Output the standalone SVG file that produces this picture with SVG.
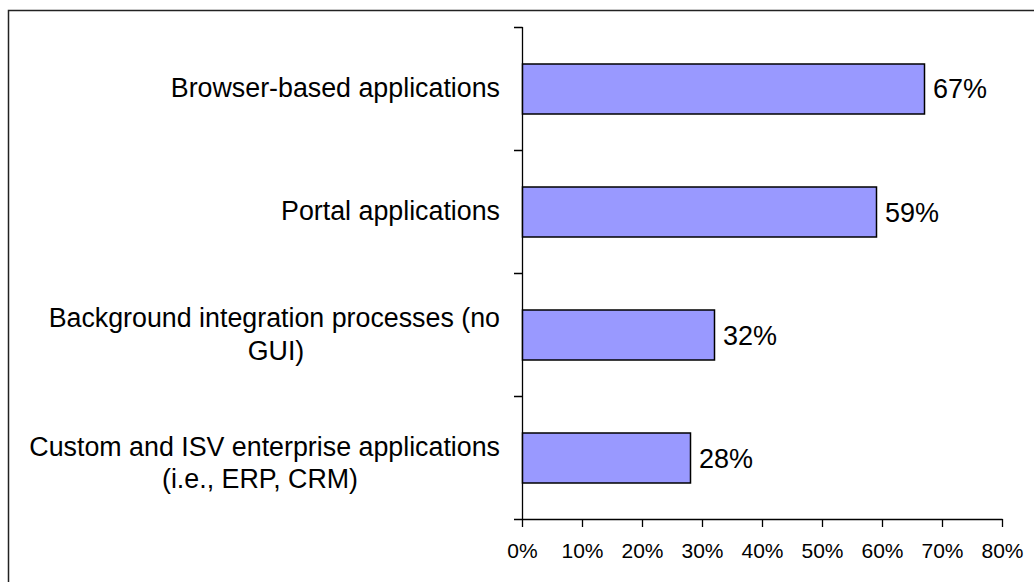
<svg xmlns="http://www.w3.org/2000/svg" width="1034" height="582" viewBox="0 0 1034 582">
<style>
.frame{fill:#fff;stroke:#222;stroke-width:1.5}
.axis{stroke:#000;stroke-width:1.3;fill:none}
.bar{fill:#9999FF;stroke:#000;stroke-width:1.5}
.cat{font-family:"Liberation Sans",Arial,sans-serif;font-size:26.8px;fill:#000}
.val{font-family:"Liberation Sans",Arial,sans-serif;font-size:27px;fill:#000}
.tick{font-family:"Liberation Sans",Arial,sans-serif;font-size:21px;fill:#000;text-anchor:middle}
</style>
<rect class="frame" x="8.5" y="10.5" width="1100" height="700"/>
<g id="axes">
<path class="axis" d="M522.5 27V519.5M514 27.5H522.5M514 150.5H522.5M514 273.5H522.5M514 396.5H522.5M514 519.5H1002.5"/>
<path class="axis" d="M522.5 519V527M582.5 519V527M642.5 519V527M702.5 519V527M762.5 519V527M822.5 519V527M882.5 519V527M942.5 519V527M1002.5 519V527"/>
<g class="tick">
<text x="522.5" y="558">0%</text>
<text x="582.5" y="558">10%</text>
<text x="642.5" y="558">20%</text>
<text x="702.5" y="558">30%</text>
<text x="762.5" y="558">40%</text>
<text x="822.5" y="558">50%</text>
<text x="882.5" y="558">60%</text>
<text x="942.5" y="558">70%</text>
<text x="1002.5" y="558">80%</text>
</g>
</g>
<g id="bar-browser">
<rect class="bar" x="522.5" y="64" width="402" height="50"/>
<text class="cat" x="500" y="97" text-anchor="end">Browser-based applications</text>
<text class="val" x="933" y="98">67%</text>
</g>
<g id="bar-portal">
<rect class="bar" x="522.5" y="187" width="354" height="50"/>
<text class="cat" x="500" y="220" text-anchor="end">Portal applications</text>
<text class="val" x="885" y="221.5">59%</text>
</g>
<g id="bar-background">
<rect class="bar" x="522.5" y="310" width="192" height="50"/>
<text class="cat" x="500" y="327" text-anchor="end">Background integration processes (no</text>
<text class="cat" x="276" y="360" text-anchor="middle">GUI)</text>
<text class="val" x="723" y="344.5">32%</text>
</g>
<g id="bar-custom">
<rect class="bar" x="522.5" y="433" width="168" height="50"/>
<text class="cat" x="500" y="456" text-anchor="end">Custom and ISV enterprise applications</text>
<text class="cat" x="260" y="488" text-anchor="middle">(i.e., ERP, CRM)</text>
<text class="val" x="699" y="467.5">28%</text>
</g>
</svg>
